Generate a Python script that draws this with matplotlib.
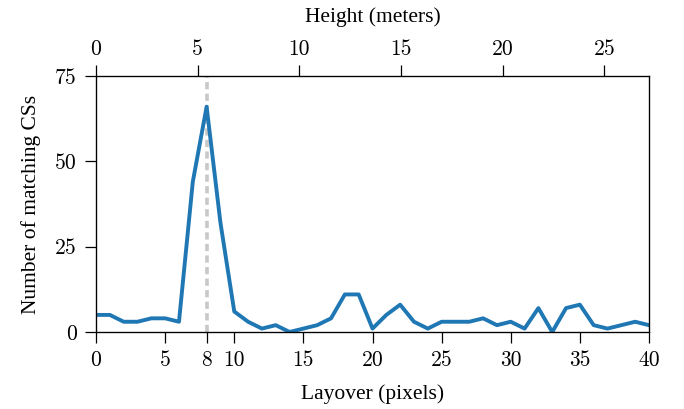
import numpy as np
import matplotlib
matplotlib.use("Agg")
import matplotlib.pyplot as plt

# layover in pixels vs number of matching CSs
layover = np.arange(0, 41)
matches = [5, 5, 3, 3, 4, 4, 3, 44, 66, 32,
           6, 3, 1, 2, 0, 1, 2, 4, 11, 11,
           1, 5, 8, 3, 1, 3, 3, 3, 4, 2,
           3, 1, 7, 0, 7, 8, 2, 1, 2, 3, 2]
bottom_ticks = [0, 5, 8, 10, 15, 20, 25, 30, 35, 40]
top_ticks = [0, 5, 10, 15, 20, 25]
y_ticks = [0, 25, 50, 75]
meters_per_pixel = 0.68
marked_layover = 8

plt.rcParams["font.family"] = ["Liberation Serif", "DejaVu Serif"]
plt.rcParams["font.size"] = 15.5

fig = plt.figure(figsize=(6.84, 4.09), dpi=100)
ax = fig.add_axes([0.1404, 0.1883, 0.8084, 0.6259])

ax.axvline(marked_layover, color="#c8c8c8", lw=2.6, ls=(0, (2.0, 1.2)), zorder=1)
ax.plot(layover, matches, color="#1f77b4", lw=2.8, zorder=2)

ax.set_xlim(0, 40)
ax.set_ylim(0, 75)
ax.set_xticks(bottom_ticks)
ax.set_yticks(y_ticks)
ax.set_xlabel("Layover (pixels)", labelpad=10)
ax.set_ylabel("Number of matching CSs", labelpad=10)
ax.tick_params(direction="out", length=8, width=0.9, pad=5.5,
               labelfontfamily="cmr10")
ax.tick_params(axis="y", pad=6)
for s in ax.spines.values():
    s.set_linewidth(0.9)

top = ax.twiny()
top.set_xlim(0, 40 * meters_per_pixel)
top.set_xticks(top_ticks)
top.set_xlabel("Height (meters)", labelpad=12.5)
top.tick_params(direction="out", length=8, width=0.9, pad=4,
                labelfontfamily="cmr10")

fig.savefig("out.png", dpi=100)
